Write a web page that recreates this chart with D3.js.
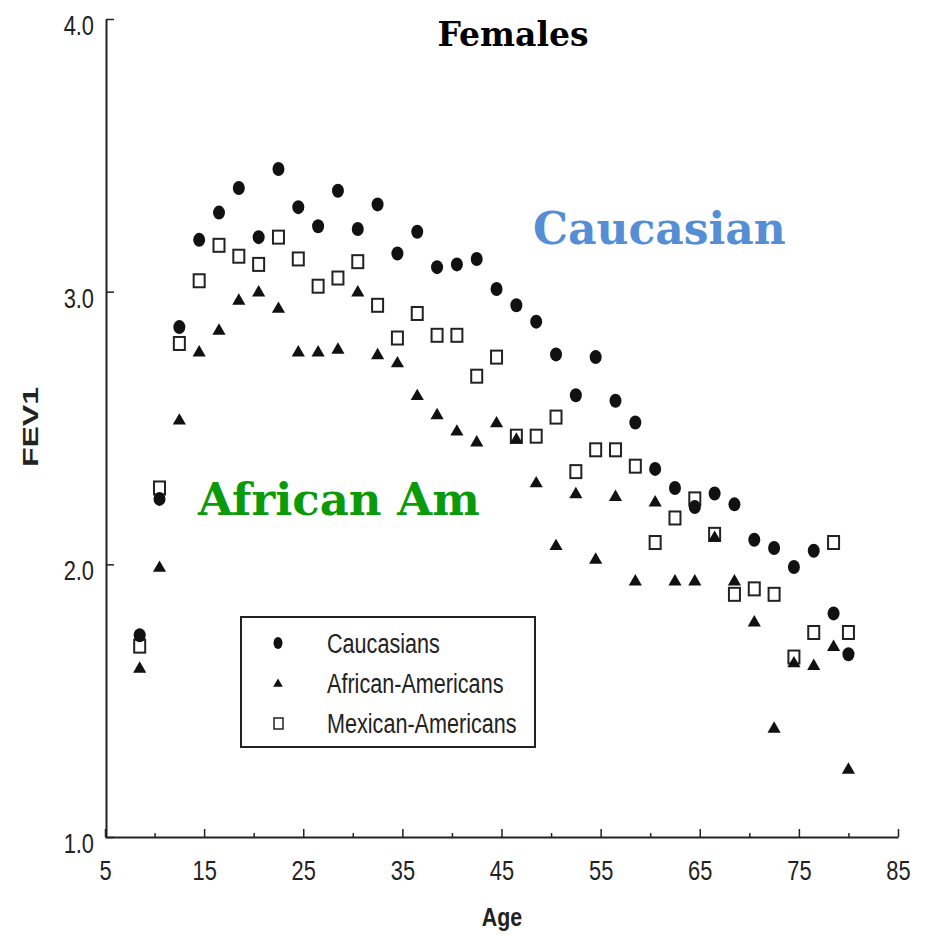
<!DOCTYPE html>
<html>
<head>
<meta charset="utf-8">
<script src="https://cdn.jsdelivr.net/npm/d3@7"></script>
<style>
  body { margin: 0; background: #fff; }
  .tick text { font-family: "Liberation Sans", Arial, sans-serif; font-size: 28px; fill: #222; }
</style>
</head>
<body>
<div id="chart"></div>
<script>
// ages (midpoints of 2-year bins, last group plotted at 80)
const ages = [8.5, 10.5, 12.5, 14.5, 16.5, 18.5, 20.5, 22.5, 24.5, 26.5, 28.5, 30.5, 32.5, 34.5, 36.5, 38.5,
  40.5, 42.5, 44.5, 46.5, 48.5, 50.5, 52.5, 54.5, 56.5, 58.5, 60.5, 62.5, 64.5, 66.5, 68.5, 70.5, 72.5,
  74.5, 76.5, 78.5, 80];
const caucasians = [1.74, 2.24, 2.87, 3.19, 3.29, 3.38, 3.20, 3.45, 3.31, 3.24, 3.37, 3.23, 3.32, 3.14, 3.22, 3.09,
  3.10, 3.12, 3.01, 2.95, 2.89, 2.77, 2.62, 2.76, 2.60, 2.52, 2.35, 2.28, 2.21, 2.26, 2.22, 2.09, 2.06,
  1.99, 2.05, 1.82, 1.67];
const africanAm = [1.62, 1.99, 2.53, 2.78, 2.86, 2.97, 3.00, 2.94, 2.78, 2.78, 2.79, 3.00, 2.77, 2.74, 2.62, 2.55,
  2.49, 2.45, 2.52, 2.46, 2.30, 2.07, 2.26, 2.02, 2.25, 1.94, 2.23, 1.94, 1.94, 2.10, 1.94, 1.79, 1.40,
  1.64, 1.63, 1.70, 1.25];
const mexicanAm = [1.70, 2.28, 2.81, 3.04, 3.17, 3.13, 3.10, 3.20, 3.12, 3.02, 3.05, 3.11, 2.95, 2.83, 2.92, 2.84,
  2.84, 2.69, 2.76, 2.47, 2.47, 2.54, 2.34, 2.42, 2.42, 2.36, 2.08, 2.17, 2.24, 2.11, 1.89, 1.91, 1.89,
  1.66, 1.75, 2.08, 1.75];

const xTicks = [5, 15, 25, 35, 45, 55, 65, 75, 85];
const xMinor = [10, 20, 30, 40, 50, 60, 70, 80];
const yTicks = [1, 2, 3, 4];
const legendLabels = ["Caucasians", "African-Americans", "Mexican-Americans"];

const svg = d3.select("#chart").append("svg").attr("width", 928).attr("height", 936);

const x = d3.scaleLinear().domain([5, 85]).range([105, 898]);
const y = d3.scaleLinear().domain([1, 4]).range([837, 19]);

// squeeze text horizontally (no narrow font installed)
function condense(sel, k) {
  sel.each(function() {
    const w = this.getComputedTextLength();
    d3.select(this).attr("textLength", w * k).attr("lengthAdjust", "spacingAndGlyphs");
  });
}

// Axes
const gx = svg.append("g").attr("transform", "translate(0,837)")
  .call(d3.axisBottom(x).tickValues(xTicks).tickSize(-8).tickSizeOuter(0).tickPadding(23).tickFormat(d3.format("d")));
svg.append("g").attr("transform", "translate(0,837)")
  .call(d3.axisBottom(x).tickValues(xMinor).tickSize(-4).tickFormat(""))
  .select(".domain").remove();

const gy = svg.append("g").attr("transform", "translate(106,0)")
  .call(d3.axisLeft(y).tickValues(yTicks).tickSize(-8).tickSizeOuter(0).tickPadding(12).tickFormat(d3.format(".1f")));
gy.selectAll(".tick text").attr("dy", "0.55em");

condense(svg.selectAll(".tick text"), 0.78);
svg.selectAll(".domain").attr("stroke", "#222").attr("stroke-width", 2);
svg.selectAll(".tick line").attr("stroke", "#222").attr("stroke-width", 1.5);

svg.append("text")
  .attr("transform", "translate(38,427) rotate(-90)")
  .attr("text-anchor", "middle")
  .attr("textLength", 80)
  .attr("lengthAdjust", "spacingAndGlyphs")
  .style("font-family", "Liberation Sans, Arial, sans-serif")
  .style("font-weight", "bold")
  .style("font-size", "22px")
  .style("fill", "#222")
  .text("FEV1");

svg.append("text")
  .attr("x", 502).attr("y", 926)
  .attr("text-anchor", "middle")
  .style("font-family", "Liberation Sans, Arial, sans-serif")
  .style("font-weight", "bold")
  .style("font-size", "26px")
  .style("fill", "#222")
  .text("Age")
  .call(condense, 0.82);

// Points
const rows = ages.map((a, i) => ({ age: a, c: caucasians[i], af: africanAm[i], m: mexicanAm[i] }));
const tri = d3.symbol().type(d3.symbolTriangle).size(75);

svg.append("g").selectAll("rect")
  .data(rows).enter().append("rect")
  .attr("x", d => x(d.age) - 5.5)
  .attr("y", d => y(d.m) - 6.5)
  .attr("width", 11).attr("height", 13)
  .attr("fill", "none").attr("stroke", "#222").attr("stroke-width", 2);

svg.append("g").selectAll("path")
  .data(rows).enter().append("path")
  .attr("d", tri)
  .attr("transform", d => `translate(${x(d.age)},${y(d.af) + 1})`)
  .attr("fill", "#111");

svg.append("g").selectAll("ellipse")
  .data(rows).enter().append("ellipse")
  .attr("cx", d => x(d.age))
  .attr("cy", d => y(d.c))
  .attr("rx", 6).attr("ry", 7)
  .attr("fill", "#111");

// Legend
const legend = svg.append("g").attr("transform", "translate(241,617)");
legend.append("rect")
  .attr("width", 294).attr("height", 130)
  .attr("fill", "white").attr("stroke", "#222").attr("stroke-width", 2);

legend.append("ellipse").attr("cx", 37).attr("cy", 26).attr("rx", 4.5).attr("ry", 6).attr("fill", "#111");
legend.append("path").attr("d", d3.symbol().type(d3.symbolTriangle).size(40))
  .attr("transform", "translate(37,67)").attr("fill", "#111");
legend.append("rect").attr("x", 33).attr("y", 101).attr("width", 9).attr("height", 11)
  .attr("fill", "none").attr("stroke", "#222").attr("stroke-width", 1.5);

legend.selectAll("text.lbl")
  .data(legendLabels).enter().append("text")
  .attr("class", "lbl")
  .attr("x", 86)
  .attr("y", (d, i) => 36 + i * 40)
  .style("font-family", "Liberation Sans, Arial, sans-serif")
  .style("font-size", "27px")
  .style("fill", "#222")
  .text(d => d)
  .call(condense, 0.8);

// Titles and annotations
svg.append("text")
  .attr("x", 513).attr("y", 46)
  .attr("text-anchor", "middle")
  .style("font-family", "DejaVu Serif, serif")
  .style("font-weight", "bold")
  .style("font-size", "33px")
  .text("Females");

svg.append("text")
  .attr("x", 533).attr("y", 244)
  .style("font-family", "DejaVu Serif, serif")
  .style("font-weight", "bold")
  .style("font-size", "44px")
  .style("fill", "#558ed5")
  .text("Caucasian");

svg.append("text")
  .attr("x", 198).attr("y", 515)
  .style("font-family", "DejaVu Serif, serif")
  .style("font-weight", "bold")
  .style("font-size", "45px")
  .style("fill", "#0a9a0a")
  .text("African Am");
</script>
</body>
</html>
